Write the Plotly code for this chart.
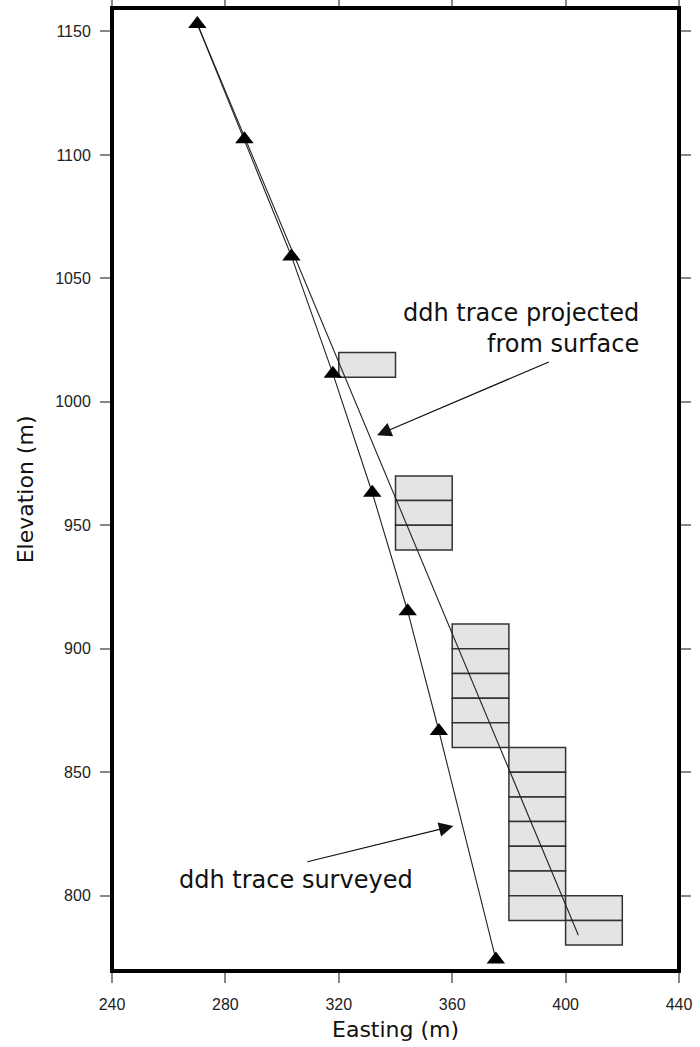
import plotly.graph_objects as go

# ---------------- data ----------------
# surveyed drill-hole trace (survey stations, triangles)
survey_easting = [270.1, 286.7, 303.3, 317.9, 331.8, 344.3, 355.3, 375.4]
survey_elevation = [1153.0, 1106.3, 1058.9, 1011.4, 963.2, 915.2, 866.7, 774.2]

# trace projected from surface (collar -> end of hole)
projected_easting = [270.1, 404.5]
projected_elevation = [1153.0, 784.0]

# sample blocks (10 m intervals) grouped by easting column
sample_easting_left = [320, 340, 360, 380, 400]
sample_easting_right = [340, 360, 380, 400, 420]
sample_elev_top = [1020, 970, 910, 860, 800]
sample_elev_bottom = [1010, 940, 860, 790, 780]
sample_interval = 10

x_ticks = [240, 280, 320, 360, 400, 440]
y_ticks = [800, 850, 900, 950, 1000, 1050, 1100, 1150]

label_projected = "ddh trace projected<br>from surface"
label_surveyed = "ddh trace surveyed"

# ---------------- figure ----------------
fig = go.Figure()

shapes = []
for xl, xr, top, bot in zip(sample_easting_left, sample_easting_right,
                            sample_elev_top, sample_elev_bottom):
    e = top
    while e > bot:
        shapes.append(dict(type="rect", xref="x", yref="y",
                           x0=xl, x1=xr, y0=e - sample_interval, y1=e,
                           fillcolor="#e4e4e4",
                           line=dict(color="#333333", width=1.5),
                           layer="below"))
        e -= sample_interval

# frame around plot area
shapes.append(dict(type="rect", xref="paper", yref="paper",
                   x0=0, x1=1, y0=0, y1=1,
                   line=dict(color="black", width=4), layer="above"))

fig.add_trace(go.Scatter(x=projected_easting, y=projected_elevation,
                         mode="lines", line=dict(color="#222222", width=1.1),
                         showlegend=False, hoverinfo="skip"))
fig.add_trace(go.Scatter(x=survey_easting, y=survey_elevation,
                         mode="lines+markers",
                         line=dict(color="#222222", width=1.1),
                         marker=dict(symbol="triangle-up", size=16, color="black"),
                         showlegend=False))

ann_font = dict(family="DejaVu Sans", size=24, color="#111111")
annotations = [
    dict(text=label_projected, x=426.6, y=1029.8, xref="x", yref="y",
         xanchor="right", yanchor="middle", align="right",
         showarrow=False, font=ann_font),
    dict(text=label_surveyed, x=263.1, y=806.4, xref="x", yref="y",
         xanchor="left", yanchor="middle", showarrow=False, font=ann_font),
    dict(text="", x=333.5, y=986.5, ax=394.6, ay=1016.4,
         xref="x", yref="y", axref="x", ayref="y",
         showarrow=True, arrowhead=2, arrowsize=2.4, arrowwidth=1.2,
         arrowcolor="#111111"),
    dict(text="", x=360.4, y=828.2, ax=308.4, ay=813.6,
         xref="x", yref="y", axref="x", ayref="y",
         showarrow=True, arrowhead=2, arrowsize=2.4, arrowwidth=1.2,
         arrowcolor="#111111"),
    dict(text="Easting (m)", x=0.5, y=-0.061, xref="paper", yref="paper",
         xanchor="center", yanchor="middle", showarrow=False,
         font=dict(family="DejaVu Sans", size=22, color="#111111")),
    dict(text="Elevation (m)", x=-0.152, y=0.5, xref="paper", yref="paper",
         xanchor="center", yanchor="middle", textangle=-90, showarrow=False,
         font=dict(family="DejaVu Sans", size=22, color="#111111")),
]

tick_font = dict(family="Liberation Sans", size=16, color="#222222")
fig.update_layout(
    width=700, height=1047,
    margin=dict(l=112, r=14, t=8, b=76, pad=0),
    paper_bgcolor="white", plot_bgcolor="white",
    shapes=shapes, annotations=annotations,
    xaxis=dict(range=[240, 440], tickvals=x_ticks, ticks="outside",
               ticklen=11, tickwidth=1.5, tickcolor="#888888",
               mirror="ticks", showline=False, showgrid=False, zeroline=False,
               tickfont=tick_font, ticklabelstandoff=8),
    yaxis=dict(range=[769.5, 1159.5], tickvals=y_ticks, ticks="outside",
               ticklen=11, tickwidth=1.5, tickcolor="#888888",
               mirror="ticks", showline=False, showgrid=False, zeroline=False,
               tickfont=tick_font, ticklabelstandoff=6),
)

fig.write_html("out.html")
